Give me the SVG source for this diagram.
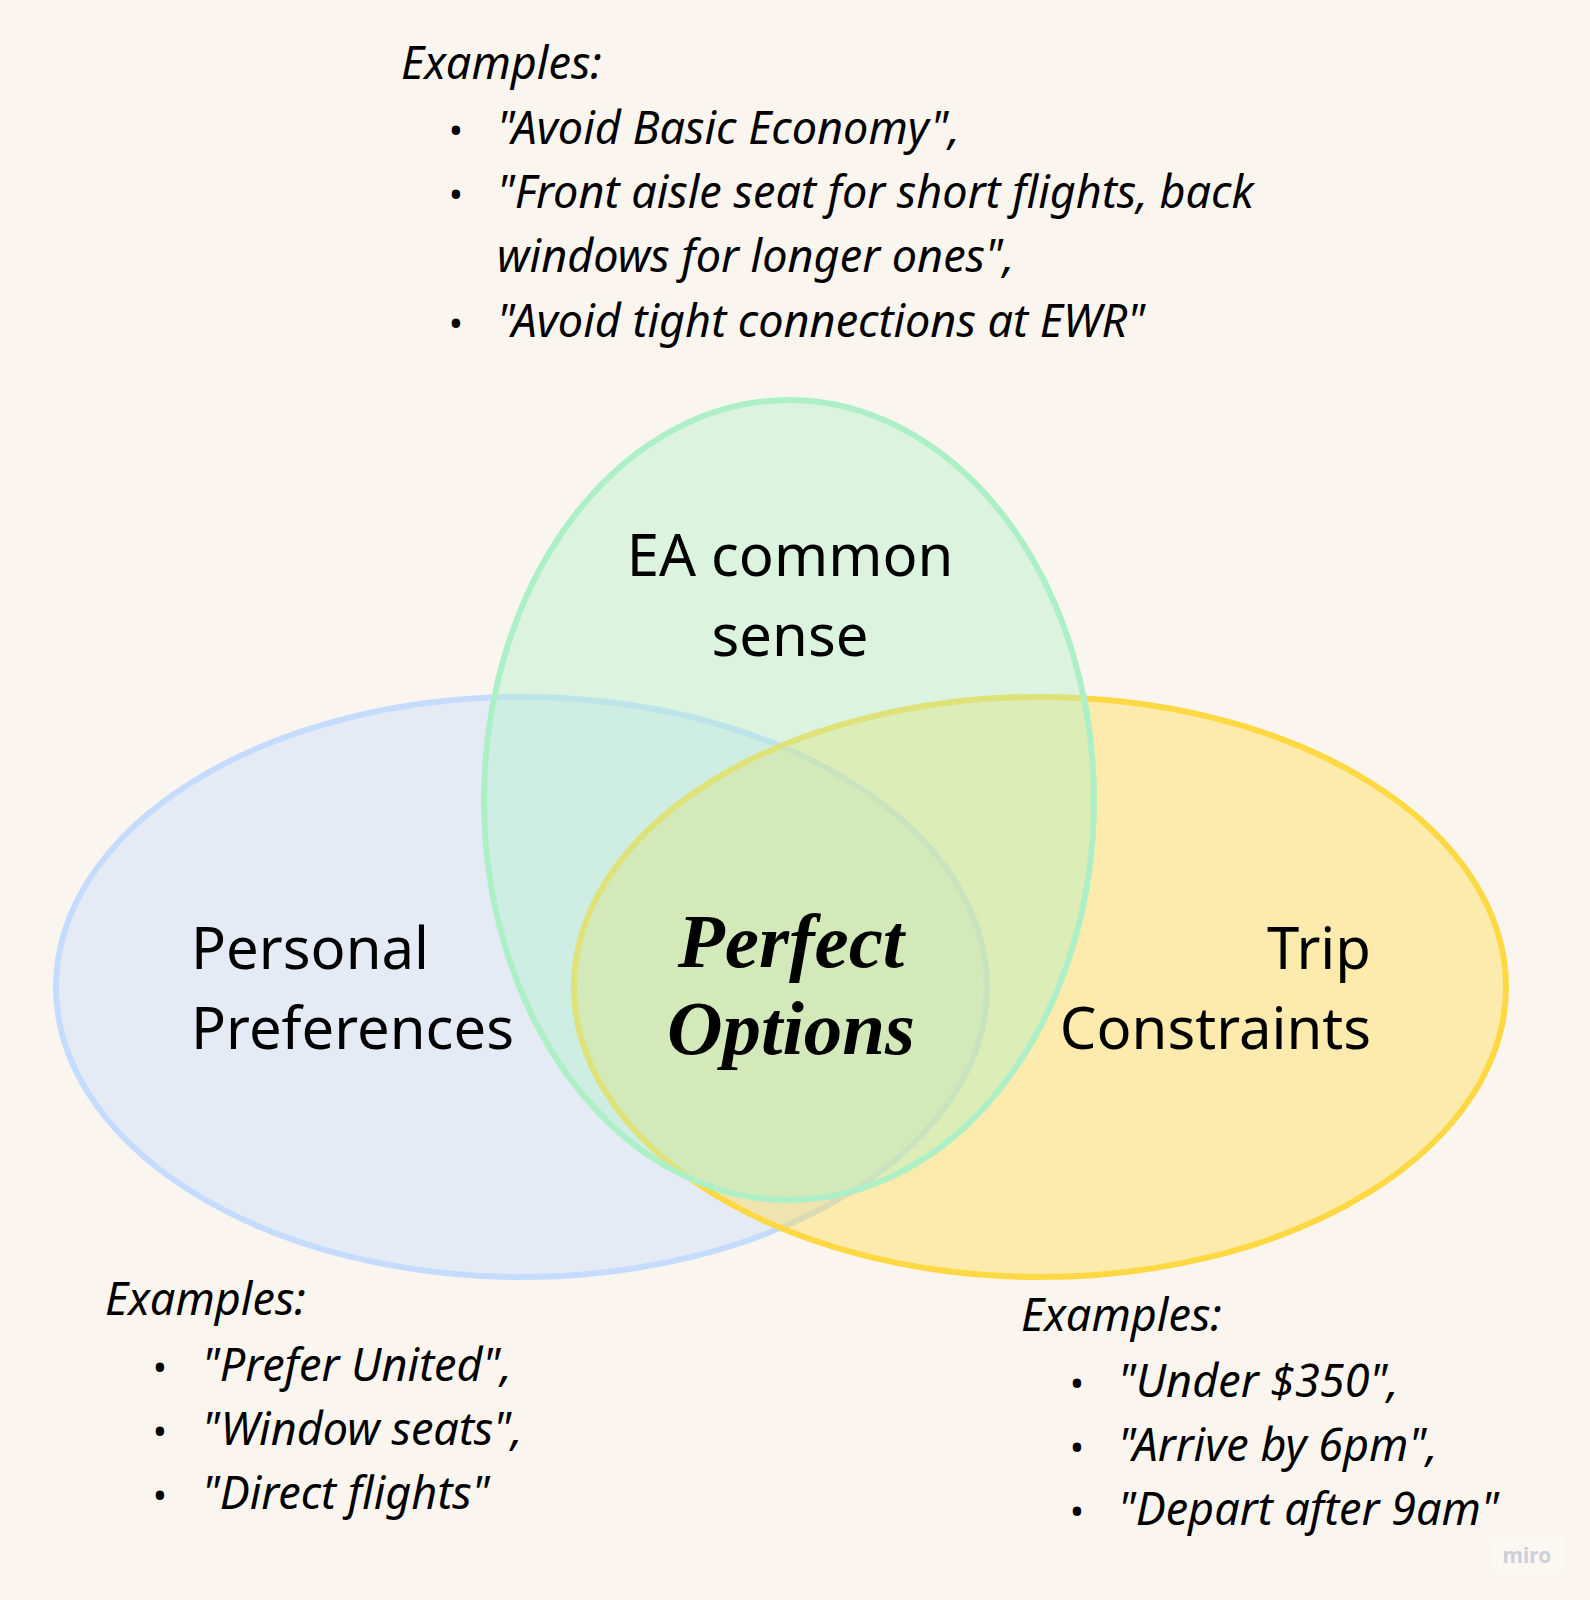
<svg xmlns="http://www.w3.org/2000/svg" width="1590" height="1600" viewBox="0 0 1590 1600">
  <style>
    .bg { fill: #faf6ef; }
    .set { stroke-width: 6; }
    .blue { fill: rgba(198,220,255,0.4); stroke: #c6dcff; }
    .yellow { fill: rgba(255,217,64,0.38); stroke: #ffd943; }
    .green { fill: rgba(173,240,199,0.4); stroke: #adf0c7; }
    .label { font-family: "Noto Sans", "Open Sans", sans-serif; font-size: 58px; fill: #000; }
    .center { font-family: "Liberation Serif", "Times New Roman", serif; font-size: 77px; font-weight: bold; font-style: italic; fill: #000; text-anchor: middle; }
    .ex { font-family: "Noto Sans", "Open Sans", sans-serif; font-size: 45px; font-style: italic; fill: #000; }
    .bul { font-family: "Noto Sans", "Open Sans", sans-serif; font-size: 38px; fill: #000; text-anchor: middle; }
    .wm { font-family: "Noto Sans", "Open Sans", sans-serif; font-size: 21px; font-weight: bold; fill: #cfcfd8; text-anchor: middle; }
  </style>
  <rect class="bg" x="0" y="0" width="1590" height="1600"/>

  <g id="personal-preferences">
    <ellipse class="set blue" cx="521.5" cy="987" rx="465.5" ry="290"/>
  </g>
  <g id="trip-constraints">
    <ellipse class="set yellow" cx="1040" cy="987" rx="466" ry="290"/>
  </g>
  <g id="ea-common-sense">
    <ellipse class="set green" cx="789" cy="800" rx="305" ry="400"/>
  </g>

  <g id="labels">
    <text class="label" x="790" y="576" text-anchor="middle">EA common</text>
    <text class="label" x="790" y="656" text-anchor="middle">sense</text>
    <text class="label" x="191" y="969">Personal</text>
    <text class="label" x="191" y="1049">Preferences</text>
    <text class="label" x="1371" y="969" text-anchor="end">Trip</text>
    <text class="label" x="1371" y="1049" text-anchor="end">Constraints</text>
  </g>

  <g id="perfect-options">
    <text class="center" x="791" y="967">Perfect</text>
    <text class="center" x="791" y="1054">Options</text>
  </g>

  <g id="examples-ea">
    <text class="ex" x="401" y="79">Examples:</text>
    <text class="bul" x="456" y="144">•</text>
    <text class="ex" x="497" y="144">"Avoid Basic Economy",</text>
    <text class="bul" x="456" y="208">•</text>
    <text class="ex" x="497" y="208">"Front aisle seat for short flights, back</text>
    <text class="ex" x="497" y="272">windows for longer ones",</text>
    <text class="bul" x="456" y="337">•</text>
    <text class="ex" x="497" y="337">"Avoid tight connections at EWR"</text>
  </g>

  <g id="examples-personal">
    <text class="ex" x="105" y="1315">Examples:</text>
    <text class="bul" x="160" y="1381">•</text>
    <text class="ex" x="202" y="1381">"Prefer United",</text>
    <text class="bul" x="160" y="1445">•</text>
    <text class="ex" x="202" y="1445">"Window seats",</text>
    <text class="bul" x="160" y="1509">•</text>
    <text class="ex" x="202" y="1509">"Direct flights"</text>
  </g>

  <g id="examples-trip">
    <text class="ex" x="1021" y="1331">Examples:</text>
    <text class="bul" x="1077" y="1397">•</text>
    <text class="ex" x="1118" y="1397">"Under $350",</text>
    <text class="bul" x="1077" y="1461">•</text>
    <text class="ex" x="1118" y="1461">"Arrive by 6pm",</text>
    <text class="bul" x="1077" y="1525">•</text>
    <text class="ex" x="1118" y="1525">"Depart after 9am"</text>
  </g>

  <g id="watermark">
    <rect x="1491" y="1537" width="73" height="36" fill="#fbf8f3"/>
    <text class="wm" x="1527" y="1563">miro</text>
  </g>

  <g id="connectors"></g>
</svg>
